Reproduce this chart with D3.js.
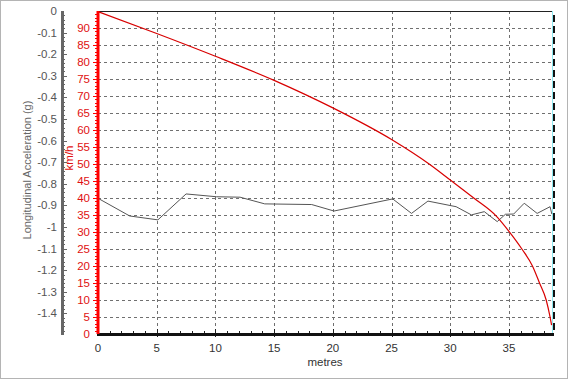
<!DOCTYPE html>
<html>
<head>
<meta charset="utf-8">
<script src="https://cdn.jsdelivr.net/npm/d3@7"></script>
<style>
  body { margin: 0; background: #fff; }
  text { font-family: "Liberation Sans", Arial, sans-serif; }
</style>
</head>
<body>
<div id="chart"></div>
<script>
// speed trace (metres, km/h)
const speedDist = [0, 5, 10, 15, 20, 25, 28.2, 30, 32.0, 34.0, 35, 36.1, 37.0, 37.6, 38.17, 38.5, 38.63];
const speedVals = [94.8, 88.4, 81.7, 74.6, 66.5, 57.2, 50, 45.3, 40, 34.4, 30.2, 25, 20, 15, 10, 5, 2.6];

// longitudinal acceleration trace (metres, g)
const accDist = [0, 2.7, 5.1, 7.5, 10.1, 12.1, 14.2, 18.2, 20.1, 25.1, 26.7, 28.1, 30.5, 31.8, 32.9, 34.0, 34.7, 35.4, 36.3, 37.4, 38.5, 38.65];
const accVals = [-0.867, -0.949, -0.967, -0.847, -0.86, -0.862, -0.893, -0.896, -0.926, -0.87, -0.937, -0.88, -0.906, -0.944, -0.929, -0.975, -0.941, -0.94, -0.89, -0.937, -0.906, -0.94];

const xTicks = [0, 5, 10, 15, 20, 25, 30, 35];
const speedTicks = [0, 5, 10, 15, 20, 25, 30, 35, 40, 45, 50, 55, 60, 65, 70, 75, 80, 85, 90];
const accTicks = [0, -0.1, -0.2, -0.3, -0.4, -0.5, -0.6, -0.7, -0.8, -0.9, -1, -1.1, -1.2, -1.3, -1.4];

const width = 570;
const height = 380;
const margin = { top: 11, right: 553, bottom: 334, left: 98 };

const svg = d3
  .select("#chart")
  .append("svg")
  .attr("width", width)
  .attr("height", height);

// outer frame
svg
  .append("rect")
  .attr("x", 0.5)
  .attr("y", 0.5)
  .attr("width", 567)
  .attr("height", 378)
  .attr("fill", "#fff")
  .attr("stroke", "#b4b4b4");

const x = d3.scaleLinear().domain([0, 38.75]).range([margin.left, margin.right]);
const ySpeed = d3.scaleLinear().domain([0, 95]).range([margin.bottom, margin.top]);
const yAcc = d3.scaleLinear().domain([0, -1.5]).range([margin.top, margin.bottom + 1]);

// grid
svg
  .selectAll(".hgrid")
  .data(speedTicks.filter((d) => d > 0))
  .enter()
  .append("line")
  .attr("class", "hgrid")
  .attr("x1", margin.left)
  .attr("x2", margin.right)
  .attr("y1", (d) => Math.round(ySpeed(d)) + 0.5)
  .attr("y2", (d) => Math.round(ySpeed(d)) + 0.5)
  .attr("stroke", "#707070")
  .attr("stroke-dasharray", "3,3");

svg
  .selectAll(".vgrid")
  .data(xTicks.filter((d) => d > 0))
  .enter()
  .append("line")
  .attr("class", "vgrid")
  .attr("y1", margin.top)
  .attr("y2", margin.bottom)
  .attr("x1", (d) => Math.round(x(d)) + 0.5)
  .attr("x2", (d) => Math.round(x(d)) + 0.5)
  .attr("stroke", "#707070")
  .attr("stroke-dasharray", "3,3");

// top border
svg
  .append("line")
  .attr("x1", margin.left)
  .attr("x2", margin.right)
  .attr("y1", margin.top + 0.5)
  .attr("y2", margin.top + 0.5)
  .attr("stroke", "#222");

// right edge: cursor + dashed line
svg
  .append("line")
  .attr("x1", margin.right - 0.5)
  .attr("x2", margin.right - 0.5)
  .attr("y1", margin.top)
  .attr("y2", margin.bottom)
  .attr("stroke", "#8ee8f0");

svg
  .append("line")
  .attr("x1", margin.right + 1)
  .attr("x2", margin.right + 1)
  .attr("y1", margin.top + 4)
  .attr("y2", margin.bottom)
  .attr("stroke", "#111")
  .attr("stroke-width", 2)
  .attr("stroke-dasharray", "7,4");

// acceleration line
svg
  .append("path")
  .datum(accDist.map((d, i) => [d, accVals[i]]))
  .attr("fill", "none")
  .attr("stroke", "#555")
  .attr("stroke-width", 1)
  .attr(
    "d",
    d3
      .line()
      .x((d) => x(d[0]))
      .y((d) => yAcc(d[1]))
  );

// speed line
svg
  .append("path")
  .datum(speedDist.map((d, i) => [d, speedVals[i]]))
  .attr("fill", "none")
  .attr("stroke", "#d80000")
  .attr("stroke-width", 1.2)
  .attr(
    "d",
    d3
      .line()
      .x((d) => x(d[0]))
      .y((d) => ySpeed(d[1]))
      .curve(d3.curveMonotoneX)
  );

// x axis
const xAxis = svg.append("g").attr("transform", `translate(0,${margin.bottom})`);
xAxis
  .selectAll(".xminor")
  .data(d3.range(1, 39))
  .enter()
  .append("line")
  .attr("x1", (d) => Math.round(x(d)) + 0.5)
  .attr("x2", (d) => Math.round(x(d)) + 0.5)
  .attr("y1", (d) => (d % 5 === 0 ? -5 : -3))
  .attr("y2", (d) => (d % 5 === 0 ? 3 : 0))
  .attr("stroke", "#222");
xAxis
  .append("line")
  .attr("x1", margin.left - 1)
  .attr("x2", margin.right + 1)
  .attr("y1", 0.5)
  .attr("y2", 0.5)
  .attr("stroke", "#111")
  .attr("stroke-width", 3);
xAxis
  .selectAll(".xlab")
  .data(xTicks)
  .enter()
  .append("text")
  .attr("x", (d) => x(d))
  .attr("y", 18)
  .attr("text-anchor", "middle")
  .attr("font-size", "11.5px")
  .attr("fill", "#333")
  .text((d) => d);
svg
  .append("text")
  .attr("x", 325)
  .attr("y", 366)
  .attr("text-anchor", "middle")
  .attr("font-size", "11.5px")
  .attr("fill", "#333")
  .text("metres");

// speed axis (red)
const sAxis = svg.append("g").attr("transform", `translate(${margin.left},0)`);
sAxis
  .selectAll(".sminor")
  .data(d3.range(1, 95))
  .enter()
  .append("line")
  .attr("y1", (d) => Math.round(ySpeed(d)) + 0.5)
  .attr("y2", (d) => Math.round(ySpeed(d)) + 0.5)
  .attr("x1", (d) => (d % 5 === 0 ? -5 : -3))
  .attr("x2", 0)
  .attr("stroke", "#ff0000");
sAxis
  .append("line")
  .attr("x1", 0)
  .attr("x2", 0)
  .attr("y1", margin.top)
  .attr("y2", margin.bottom)
  .attr("stroke", "#ff0000")
  .attr("stroke-width", 3);
sAxis
  .selectAll(".slab")
  .data(speedTicks)
  .enter()
  .append("text")
  .attr("x", -8)
  .attr("y", (d) => ySpeed(d) + 4)
  .attr("text-anchor", "end")
  .attr("font-size", "11.5px")
  .attr("fill", "#e01010")
  .text((d) => d);
svg
  .append("text")
  .attr("transform", "translate(73,158) rotate(-90)")
  .attr("text-anchor", "middle")
  .attr("font-size", "11.5px")
  .attr("fill", "#e01010")
  .text("km/h");

// acceleration axis (grey)
const aAxis = svg.append("g").attr("transform", "translate(62,0)");
aAxis
  .selectAll(".aminor")
  .data(d3.range(1, 75))
  .enter()
  .append("line")
  .attr("y1", (d) => Math.round(yAcc(-d * 0.02)) + 0.5)
  .attr("y2", (d) => Math.round(yAcc(-d * 0.02)) + 0.5)
  .attr("x1", 0)
  .attr("x2", (d) => (d % 5 === 0 ? 5 : 3))
  .attr("stroke", "#666");
aAxis
  .append("line")
  .attr("x1", 0.5)
  .attr("x2", 0.5)
  .attr("y1", margin.top)
  .attr("y2", margin.bottom + 1)
  .attr("stroke", "#666")
  .attr("stroke-width", 3);
aAxis
  .selectAll(".alab")
  .data(accTicks)
  .enter()
  .append("text")
  .attr("x", -5)
  .attr("y", (d) => yAcc(d) + 4)
  .attr("text-anchor", "end")
  .attr("font-size", "11.5px")
  .attr("fill", "#555")
  .text((d) => d);
svg
  .append("text")
  .attr("transform", "translate(31,170) rotate(-90)")
  .attr("text-anchor", "middle")
  .attr("font-size", "11px")
  .attr("fill", "#666")
  .text("Longitudinal Acceleration (g)");
</script>
</body>
</html>
